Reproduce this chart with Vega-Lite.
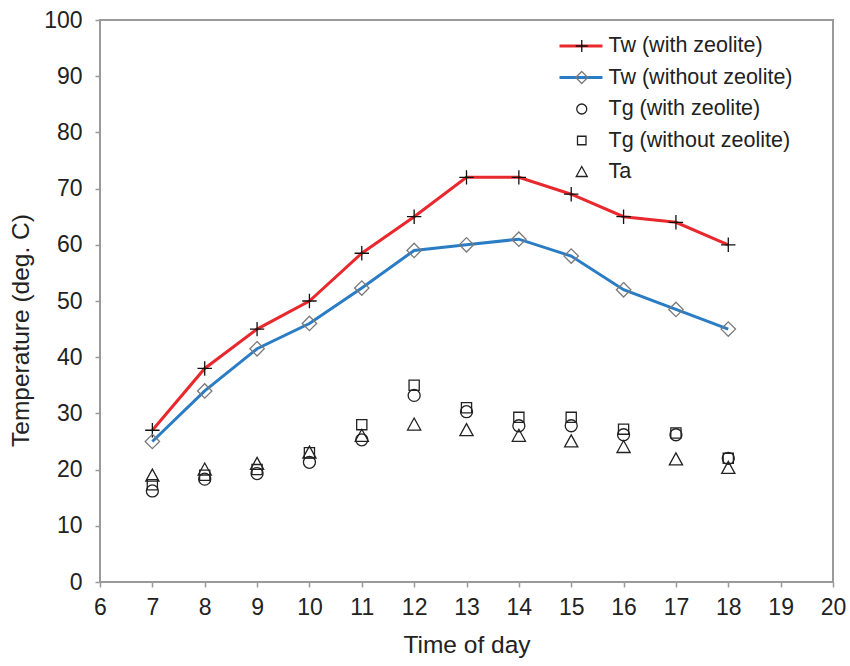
{
  "$schema": "https://vega.github.io/schema/vega-lite/v6.json",
  "width": 733,
  "height": 562,
  "autosize": {"type": "none"},
  "padding": {"left": 100, "top": 20, "right": 17, "bottom": 84},
  "background": "white",
  "config": {
    "font": "Liberation Sans",
    "view": {"stroke": "#9a9a9a", "strokeWidth": 2},
    "axis": {
      "grid": false,
      "domain": false,
      "ticks": true,
      "tickColor": "#9a9a9a",
      "tickWidth": 1.5,
      "tickSize": 5,
      "labelFont": "Liberation Sans",
      "labelFontSize": 23,
      "labelColor": "#222",
      "titleFont": "Liberation Sans",
      "titleFontSize": 24.5,
      "titleFontWeight": "normal",
      "titleColor": "#222"
    }
  },
  "data": {
    "values": [
      {"t": 7, "series": "Tw (with zeolite)", "v": 27},
      {"t": 8, "series": "Tw (with zeolite)", "v": 38},
      {"t": 9, "series": "Tw (with zeolite)", "v": 45},
      {"t": 10, "series": "Tw (with zeolite)", "v": 50},
      {"t": 11, "series": "Tw (with zeolite)", "v": 58.5},
      {"t": 12, "series": "Tw (with zeolite)", "v": 65},
      {"t": 13, "series": "Tw (with zeolite)", "v": 72},
      {"t": 14, "series": "Tw (with zeolite)", "v": 72},
      {"t": 15, "series": "Tw (with zeolite)", "v": 69},
      {"t": 16, "series": "Tw (with zeolite)", "v": 65},
      {"t": 17, "series": "Tw (with zeolite)", "v": 64},
      {"t": 18, "series": "Tw (with zeolite)", "v": 60},
      {"t": 7, "series": "Tw (without zeolite)", "v": 25},
      {"t": 8, "series": "Tw (without zeolite)", "v": 34},
      {"t": 9, "series": "Tw (without zeolite)", "v": 41.5},
      {"t": 10, "series": "Tw (without zeolite)", "v": 46},
      {"t": 11, "series": "Tw (without zeolite)", "v": 52.3},
      {"t": 12, "series": "Tw (without zeolite)", "v": 59},
      {"t": 13, "series": "Tw (without zeolite)", "v": 60},
      {"t": 14, "series": "Tw (without zeolite)", "v": 61},
      {"t": 15, "series": "Tw (without zeolite)", "v": 58},
      {"t": 16, "series": "Tw (without zeolite)", "v": 52},
      {"t": 17, "series": "Tw (without zeolite)", "v": 48.5},
      {"t": 18, "series": "Tw (without zeolite)", "v": 45},
      {"t": 7, "series": "Tg (with zeolite)", "v": 16.2},
      {"t": 8, "series": "Tg (with zeolite)", "v": 18.3},
      {"t": 9, "series": "Tg (with zeolite)", "v": 19.3},
      {"t": 10, "series": "Tg (with zeolite)", "v": 21.3},
      {"t": 11, "series": "Tg (with zeolite)", "v": 25.3},
      {"t": 12, "series": "Tg (with zeolite)", "v": 33.2},
      {"t": 13, "series": "Tg (with zeolite)", "v": 30.3},
      {"t": 14, "series": "Tg (with zeolite)", "v": 27.8},
      {"t": 15, "series": "Tg (with zeolite)", "v": 27.8},
      {"t": 16, "series": "Tg (with zeolite)", "v": 26.2},
      {"t": 17, "series": "Tg (with zeolite)", "v": 26.2},
      {"t": 18, "series": "Tg (with zeolite)", "v": 22},
      {"t": 7, "series": "Tg (without zeolite)", "v": 17.3},
      {"t": 8, "series": "Tg (without zeolite)", "v": 19},
      {"t": 9, "series": "Tg (without zeolite)", "v": 20},
      {"t": 10, "series": "Tg (without zeolite)", "v": 23},
      {"t": 11, "series": "Tg (without zeolite)", "v": 28},
      {"t": 12, "series": "Tg (without zeolite)", "v": 35},
      {"t": 13, "series": "Tg (without zeolite)", "v": 31},
      {"t": 14, "series": "Tg (without zeolite)", "v": 29.3},
      {"t": 15, "series": "Tg (without zeolite)", "v": 29.3},
      {"t": 16, "series": "Tg (without zeolite)", "v": 27.2},
      {"t": 17, "series": "Tg (without zeolite)", "v": 26.5},
      {"t": 18, "series": "Tg (without zeolite)", "v": 22},
      {"t": 7, "series": "Ta", "v": 18.9},
      {"t": 8, "series": "Ta", "v": 20},
      {"t": 9, "series": "Ta", "v": 21},
      {"t": 10, "series": "Ta", "v": 23},
      {"t": 11, "series": "Ta", "v": 26},
      {"t": 12, "series": "Ta", "v": 28},
      {"t": 13, "series": "Ta", "v": 27},
      {"t": 14, "series": "Ta", "v": 26},
      {"t": 15, "series": "Ta", "v": 25},
      {"t": 16, "series": "Ta", "v": 24},
      {"t": 17, "series": "Ta", "v": 21.8},
      {"t": 18, "series": "Ta", "v": 20.3}
    ]
  },
  "encoding": {
    "x": {
      "field": "t",
      "type": "quantitative",
      "title": "Time of day",
      "scale": {"domain": [6, 20], "nice": false, "zero": false},
      "axis": {"values": [6,7,8,9,10,11,12,13,14,15,16,17,18,19,20], "labelPadding": 9, "titlePadding": 14, "labelFlush": false, "labelOverlap": false}
    },
    "y": {
      "field": "v",
      "type": "quantitative",
      "title": "Temperature (deg. C)",
      "scale": {"domain": [0, 100], "nice": false},
      "axis": {"values": [0,10,20,30,40,50,60,70,80,90,100], "labelPadding": 13, "titlePadding": 10, "titleY": 310, "labelFlush": false, "labelOverlap": false}
    }
  },
  "layer": [
    {
      "transform": [{"filter": "indexof(datum.series, 'Tw') == 0"}],
      "mark": {"type": "line", "strokeWidth": 3},
      "encoding": {
        "color": {
          "field": "series",
          "type": "nominal",
          "scale": {"range": ["#e8282d", "#2a7dc4"]},
          "legend": {
            "orient": "none",
            "legendX": 458,
            "legendY": 16,
            "title": null,
            "padding": 0,
            "symbolType": "stroke",
            "symbolSize": 1849,
            "symbolStrokeWidth": 3,
            "clipHeight": 20,
            "rowPadding": 9.5,
            "labelFontSize": 21.5,
            "labelColor": "transparent",
            "labelLimit": 300
          }
        }
      }
    },
    {
      "mark": {"type": "point", "filled": false, "size": 144, "strokeWidth": 1.3, "opacity": 1},
      "encoding": {
        "shape": {
          "field": "series",
          "type": "nominal",
          "scale": {
            "domain": ["Tw (with zeolite)", "Tw (without zeolite)", "Tg (with zeolite)", "Tg (without zeolite)", "Ta"],
            "range": ["M-1.2,0H1.2M0,-1.2V1.2", "M0,-1.2L1.2,0L0,1.2L-1.2,0Z", "M1,0A1,1,0,1,1,-1,0A1,1,0,1,1,1,0Z", "M-0.85,-0.85H0.85V0.85H-0.85Z", "M0,-1.1L1.1,0.9H-1.1Z"]
          },
          "legend": {
            "orient": "none",
            "legendX": 471,
            "legendY": 16,
            "title": null,
            "padding": 0,
            "symbolSize": 100,
            "symbolStrokeWidth": 1.3,
            "symbolFillColor": "transparent",
            "clipHeight": 20,
            "rowPadding": 9.5,
            "labelFontSize": 21.5,
            "labelColor": "#222",
            "labelOffset": 16,
            "labelLimit": 300
          }
        },
        "stroke": {
          "field": "series",
          "type": "nominal",
          "scale": {
            "domain": ["Tw (with zeolite)", "Tw (without zeolite)", "Tg (with zeolite)", "Tg (without zeolite)", "Ta"],
            "range": ["#111111", "#7a7a7a", "#222222", "#222222", "#222222"]
          },
          "legend": {
            "orient": "none",
            "legendX": 471,
            "legendY": 16,
            "title": null,
            "padding": 0,
            "symbolSize": 100,
            "symbolStrokeWidth": 1.3,
            "symbolFillColor": "transparent",
            "clipHeight": 20,
            "rowPadding": 9.5,
            "labelFontSize": 21.5,
            "labelColor": "#222",
            "labelOffset": 16,
            "labelLimit": 300
          }
        }
      }
    }
  ]
}
